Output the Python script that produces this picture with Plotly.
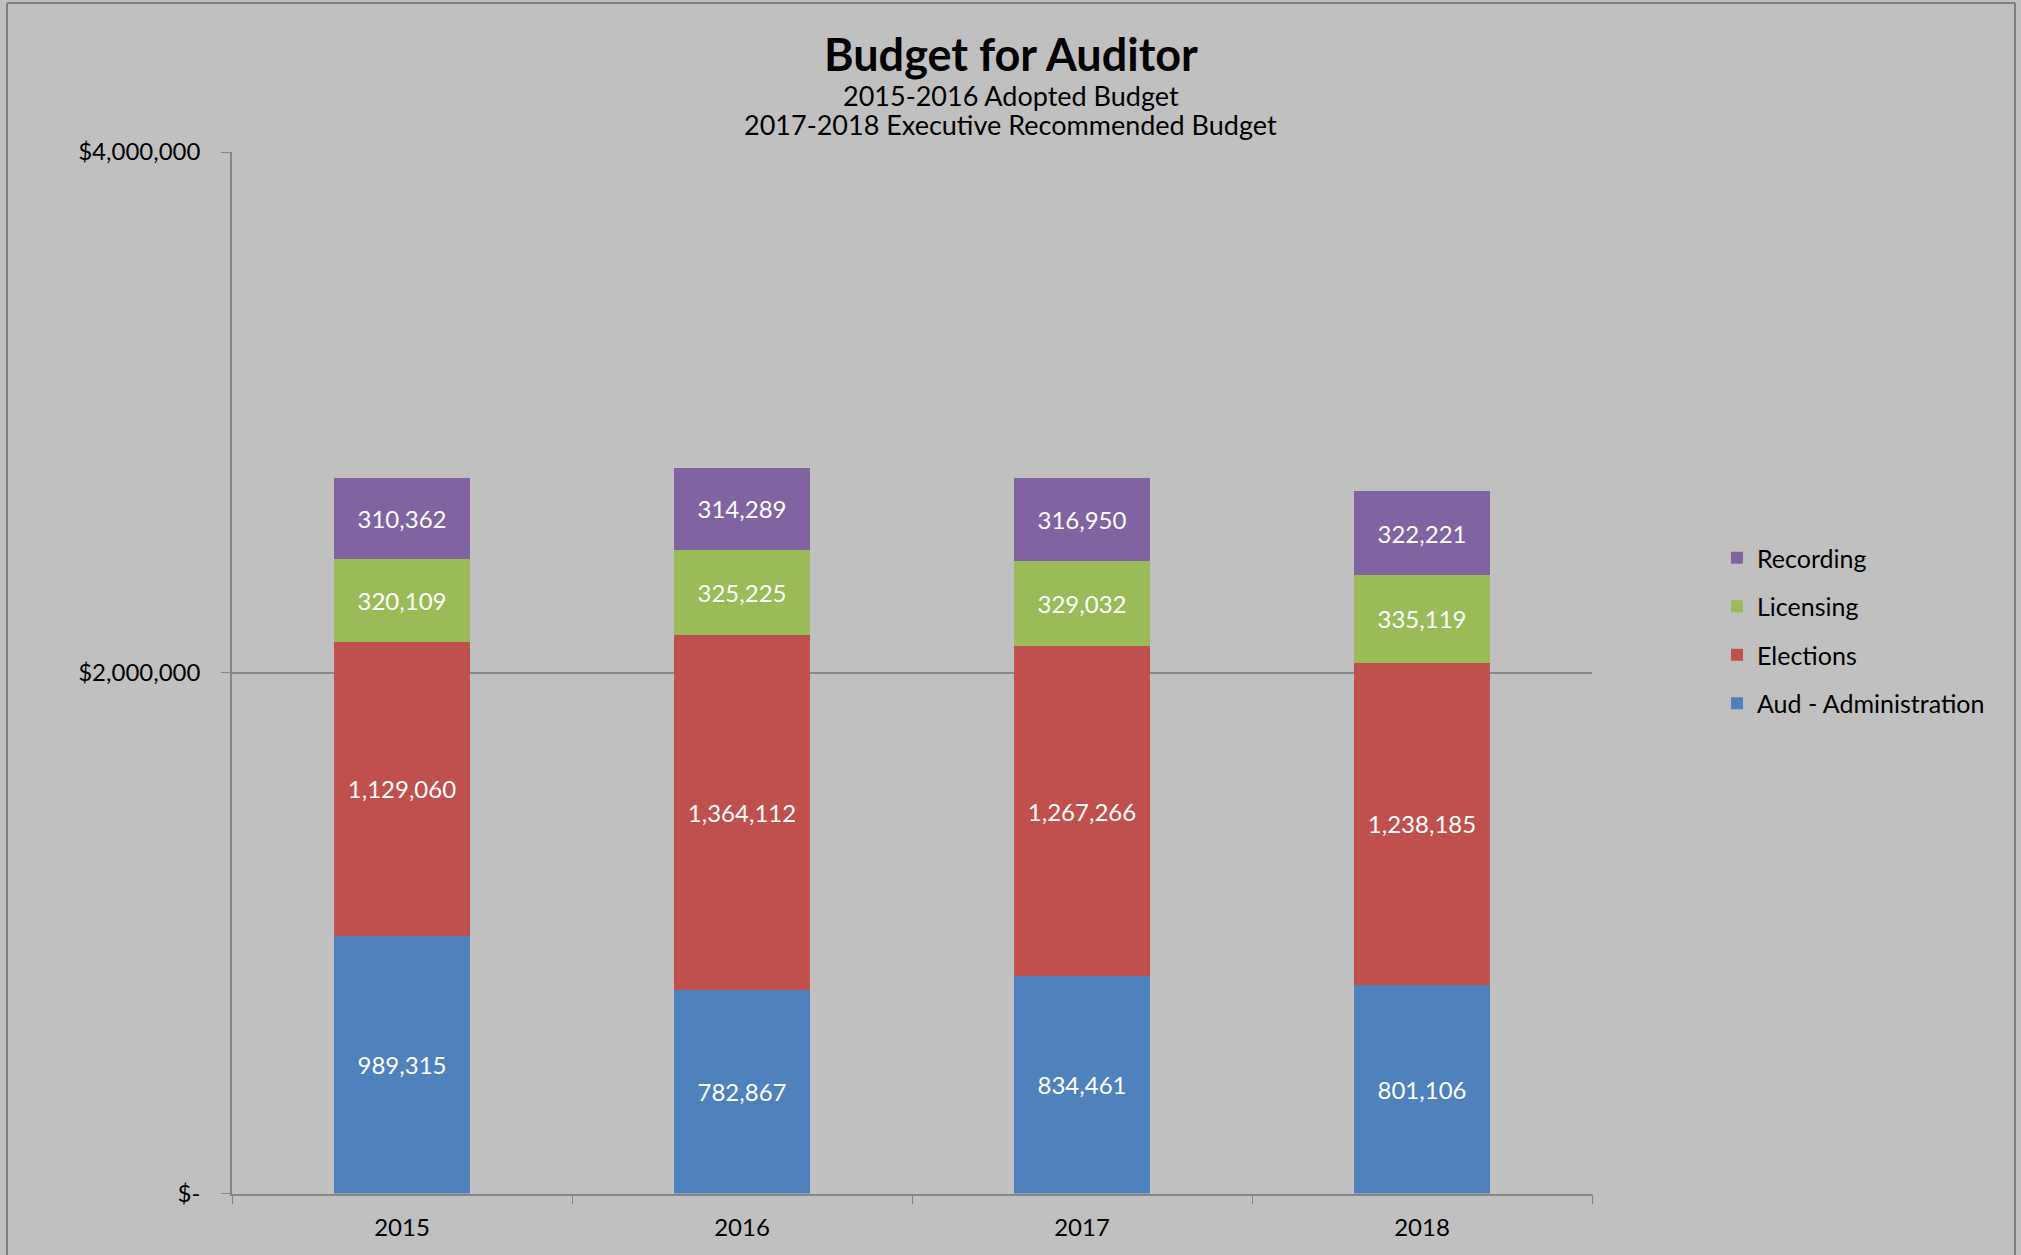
import plotly.graph_objects as go

years = ["2015", "2016", "2017", "2018"]
aud_admin = [989315, 782867, 834461, 801106]
elections = [1129060, 1364112, 1267266, 1238185]
licensing = [320109, 325225, 329032, 335119]
recording = [310362, 314289, 316950, 322221]

series = [
    ("Aud - Administration", aud_admin, "#4F81BD", 4),
    ("Elections", elections, "#C0504D", 3),
    ("Licensing", licensing, "#9BBB59", 2),
    ("Recording", recording, "#8064A2", 1),
]

ytick_vals = [0, 2000000, 4000000]
ytick_text = ["$-", "$2,000,000", "$4,000,000"]

W, H = 2021, 1255
FONT = "Lato, Open Sans, sans-serif"

fig = go.Figure()
for name, vals, color, rank in series:
    fig.add_trace(go.Bar(
        x=years, y=vals, name=name, legendgroup=name, legendrank=rank,
        marker=dict(color=color, line=dict(width=0)),
        texttemplate="%{y:,}", textposition="inside", insidetextanchor="middle",
        textangle=0, textfont=dict(color="white", size=24, family=FONT),
    ))

axis_col = "#868686"
fig.update_layout(
    width=W, height=H, autosize=False,
    paper_bgcolor="#C0C0C0", plot_bgcolor="#C0C0C0",
    margin=dict(l=0, r=0, t=0, b=0, pad=0, autoexpand=False),
    barmode="stack", bargap=0.6,
    font=dict(family=FONT, size=24, color="black"),
    showlegend=True,
    legend=dict(
        x=1717 / W, y=1 - 535 / H, xanchor="left", yanchor="top",
        traceorder="grouped", tracegroupgap=13,
        font=dict(size=25), bgcolor="rgba(0,0,0,0)",
        itemwidth=30,
    ),
    xaxis=dict(
        domain=[232 / W, 1592 / W], type="category",
        showline=True, linecolor=axis_col, linewidth=1.5,
        ticks="outside", tickson="boundaries", ticklen=9, tickcolor=axis_col,
        showgrid=False, tickfont=dict(size=24), ticklabelstandoff=12,
    ),
    yaxis=dict(
        domain=[1 - 1193.6 / H, 1 - 152 / H], range=[0, 4000000],
        tickvals=ytick_vals, ticktext=ytick_text,
        showline=True, linecolor=axis_col, linewidth=1.5,
        ticks="outside", ticklen=9, tickcolor=axis_col,
        showgrid=True, gridcolor=axis_col, gridwidth=1.5,
        zeroline=False, tickfont=dict(size=24), ticklabelstandoff=16,
    ),
    annotations=[
        dict(text="<b>Budget for Auditor</b>", x=0.5, y=1 - 54 / H, xref="paper", yref="paper",
             showarrow=False, font=dict(size=45), xanchor="center", yanchor="middle"),
        dict(text="2015-2016 Adopted Budget", x=0.5, y=1 - 95 / H, xref="paper", yref="paper",
             showarrow=False, font=dict(size=27), xanchor="center", yanchor="middle"),
        dict(text="2017-2018 Executive Recommended Budget", x=0.5, y=1 - 124 / H, xref="paper", yref="paper",
             showarrow=False, font=dict(size=27), xanchor="center", yanchor="middle"),
    ],
    shapes=[
        dict(type="line", xref="paper", yref="paper", x0=7 / W, x1=7 / W, y0=0, y1=1 - 3 / H,
             line=dict(color="#7F7F7F", width=2)),
        dict(type="line", xref="paper", yref="paper", x0=7 / W, x1=2015 / W, y0=1 - 3 / H, y1=1 - 3 / H,
             line=dict(color="#7F7F7F", width=2)),
        dict(type="line", xref="paper", yref="paper", x0=2015 / W, x1=2015 / W, y0=0, y1=1 - 3 / H,
             line=dict(color="#7F7F7F", width=2)),
    ],
)

fig.write_html(
    "out.html",
    config={"responsive": False, "displayModeBar": False},
    post_script="document.body.style.margin='0';document.body.style.padding='0';document.body.style.overflow='hidden';",
)
